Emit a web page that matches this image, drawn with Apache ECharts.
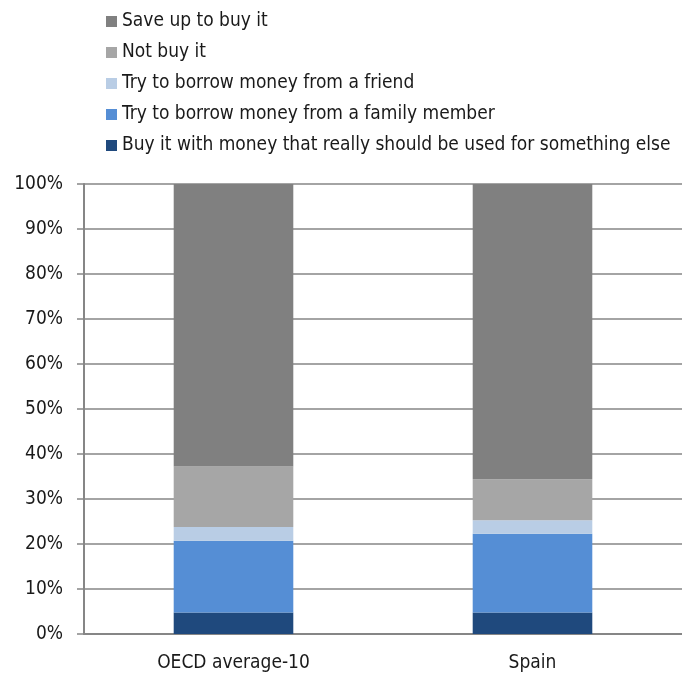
<!DOCTYPE html>
<html>
<head>
<meta charset="utf-8">
<script src="https://cdn.jsdelivr.net/npm/echarts@6/dist/echarts.min.js"></script>
<style>
  html, body { margin: 0; padding: 0; background: #fff; }
  #chart { width: 682px; height: 675px; }
</style>
</head>
<body>
<div id="chart"></div>
<script>
// Categories along the x axis
const categories = ['OECD average-10', 'Spain'];

// Shares of respondents (%), stacked from bottom to top
const buyWithOtherMoney = [4.8, 4.8];
const borrowFamily = [15.9, 17.5];
const borrowFriend = [3.1, 3.0];
const notBuy = [13.4, 9.1];
const saveUp = [62.8, 65.6];

// Y axis ticks
const yMin = 0, yMax = 100, yStep = 10;

const FONT = '"Liberation Sans Narrow", "DejaVu Sans Condensed", "Arial Narrow", sans-serif';
const AXIS_GREY = '#868686';

const seriesDefs = [
  { name: 'Buy it with money that really should be used for something else', data: buyWithOtherMoney, color: '#1f497d' },
  { name: 'Try to borrow money from a family member', data: borrowFamily, color: '#558ed5' },
  { name: 'Try to borrow money from a friend', data: borrowFriend, color: '#b9cde5' },
  { name: 'Not buy it', data: notBuy, color: '#a6a6a6' },
  { name: 'Save up to buy it', data: saveUp, color: '#808080' }
];

const chart = echarts.init(document.getElementById('chart'), null, { renderer: 'canvas' });

chart.setOption({
  animation: false,
  textStyle: { fontFamily: FONT },
  legend: {
    orient: 'vertical',
    left: 101,
    top: 7,
    itemWidth: 11,
    itemHeight: 11,
    itemGap: 12,
    icon: 'rect',
    textStyle: { fontSize: 19, color: '#1a1a1a', fontFamily: FONT },
    data: seriesDefs.slice().reverse().map(s => s.name)
  },
  grid: { left: 84, width: 605, top: 184, bottom: 41, containLabel: false },
  xAxis: {
    type: 'category',
    data: categories,
    axisLine: { lineStyle: { color: AXIS_GREY, width: 2 } },
    axisTick: { show: false },
    axisLabel: { fontSize: 19, color: '#1a1a1a', margin: 20, fontFamily: FONT }
  },
  yAxis: {
    type: 'value',
    min: yMin,
    max: yMax,
    interval: yStep,
    axisLine: { show: true, lineStyle: { color: AXIS_GREY, width: 2 } },
    axisTick: { show: true, length: 7, lineStyle: { color: AXIS_GREY, width: 1.5 } },
    splitLine: { lineStyle: { color: AXIS_GREY, width: 1.5 } },
    axisLabel: { fontSize: 19, color: '#1a1a1a', margin: 21, formatter: '{value}%', fontFamily: FONT }
  },
  series: seriesDefs.map(s => ({
    name: s.name,
    type: 'bar',
    stack: 'total',
    barWidth: '40%',
    data: s.data,
    itemStyle: { color: s.color },
    emphasis: { disabled: true }
  }))
});
</script>
</body>
</html>
